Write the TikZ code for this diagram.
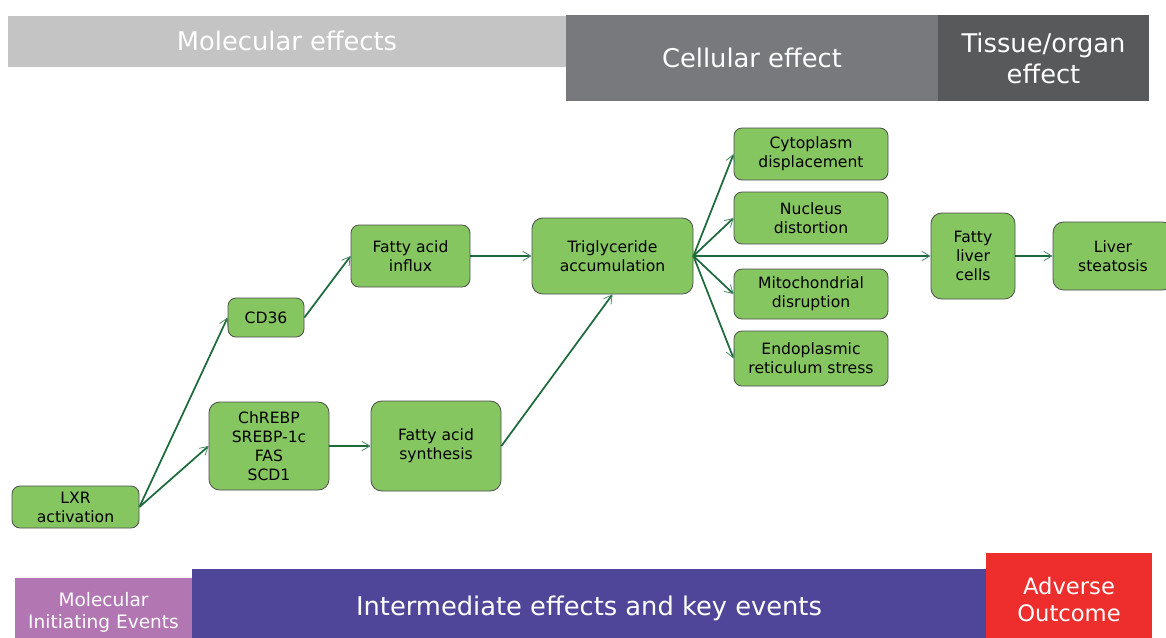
\documentclass[tikz,border=0pt]{standalone}
\usepackage{fontspec}
\setmainfont{DejaVu Sans}
\usepackage{tikz}
\usetikzlibrary{arrows.meta,positioning}

\definecolor{boxgreen}{HTML}{86C661}
\definecolor{boxedge}{HTML}{4D4D4D}
\definecolor{linkgreen}{HTML}{1D6B3C}
\definecolor{molgray}{HTML}{C3C4C3}
\definecolor{cellgray}{HTML}{77797C}
\definecolor{tissuegray}{HTML}{58595B}
\definecolor{miepurple}{HTML}{B276B2}
\definecolor{keyblue}{HTML}{4F4699}
\definecolor{aored}{HTML}{EE2D2D}

\begin{document}
\begin{tikzpicture}[x=0.75pt, y=-0.75pt,
    box/.style={draw=boxedge, line width=0.6pt, fill=boxgreen, rounded corners=6pt,
        align=center, inner sep=0pt, font=\fontsize{11.7}{14.25}\selectfont},
    band/.style={fill=#1, text=white, align=center, inner sep=0pt},
    link/.style={draw=linkgreen, line width=1.3pt,
        -{Straight Barb[length=6pt, width=7pt, line width=0.6pt, color=linkgreen!80!white]}}]
    \useasboundingbox (0,0) rectangle (1166,637);

    % Level bands (top)
    \node[band=molgray, minimum width=418.5pt, minimum height=38.25pt,
        font=\fontsize{19.3}{23.25}\selectfont] (molecular) at (287,41) {Molecular effects};
    \node[band=cellgray, minimum width=279pt, minimum height=64.5pt,
        font=\fontsize{19.3}{23.25}\selectfont] (cellular) at (752,58) {Cellular effect};
    \node[band=tissuegray, minimum width=158.25pt, minimum height=64.5pt,
        font=\fontsize{19.3}{23.25}\selectfont] (tissue) at (1043.5,58) {Tissue/organ\\effect};

    % Level bands (bottom, cut by the page edge)
    \node[band=miepurple, minimum width=132.75pt, minimum height=51pt,
        font=\fontsize{13.9}{16.5}\selectfont] (mie) at (103.5,612) {Molecular\\Initiating Events};
    \node[band=keyblue, minimum width=595.5pt, minimum height=58.5pt,
        font=\fontsize{19.3}{23.25}\selectfont] (intermediate) at (589,608) {Intermediate effects and key events};
    \node[band=aored, minimum width=124.5pt, minimum height=69.75pt,
        font=\fontsize{17}{20.25}\selectfont] (adverse) at (1069,599.5) {Adverse\\Outcome};

    % Key events
    \node[box, minimum width=95.25pt, minimum height=31.5pt] (lxr) at (75.5,507) {LXR\\activation};
    \node[box, minimum width=57pt, minimum height=29.25pt] (cd36) at (266,317.5) {CD36};
    \node[box, minimum width=90pt, minimum height=66pt, rounded corners=8pt] (genes) at (269,446) {ChREBP\\SREBP-1c\\FAS\\SCD1};
    \node[box, minimum width=89.25pt, minimum height=46.5pt] (influx) at (410.5,256) {Fatty acid\\influx};
    \node[box, minimum width=97.5pt, minimum height=67.5pt, rounded corners=8pt] (synthesis) at (436,446) {Fatty acid\\synthesis};
    \node[box, minimum width=120.75pt, minimum height=57pt, rounded corners=8pt] (trig) at (612.5,256) {Triglyceride\\accumulation};
    \node[box, minimum width=115.5pt, minimum height=39pt] (cyto) at (811,154) {Cytoplasm\\displacement};
    \node[box, minimum width=115.5pt, minimum height=39pt] (nucleus) at (811,218) {Nucleus\\distortion};
    \node[box, minimum width=115.5pt, minimum height=37.5pt] (mito) at (811,294) {Mitochondrial\\disruption};
    \node[box, minimum width=115.5pt, minimum height=41.25pt] (er) at (811,358.5) {Endoplasmic\\reticulum stress};
    \node[box, minimum width=63pt, minimum height=64.5pt, rounded corners=8pt] (livercells) at (973,256) {Fatty\\liver\\cells};
    \node[box, minimum width=90pt, minimum height=51pt, rounded corners=8pt] (steatosis) at (1113,256) {Liver\\steatosis};

    % Connectors
    \draw[link] (lxr.east) -- (cd36.west);
    \draw[link] (lxr.east) -- (genes.west);
    \draw[link] (cd36.east) -- (influx.west);
    \draw[link] (genes.east) -- (synthesis.west);
    \draw[link] (influx.east) -- (trig.west);
    \draw[link] (synthesis.east) -- (trig.south);
    \foreach \target in {cyto,nucleus,mito,er,livercells}
        \draw[link] (trig.east) -- (\target.west);
    \draw[link] (livercells.east) -- (steatosis.west);
\end{tikzpicture}
\end{document}
